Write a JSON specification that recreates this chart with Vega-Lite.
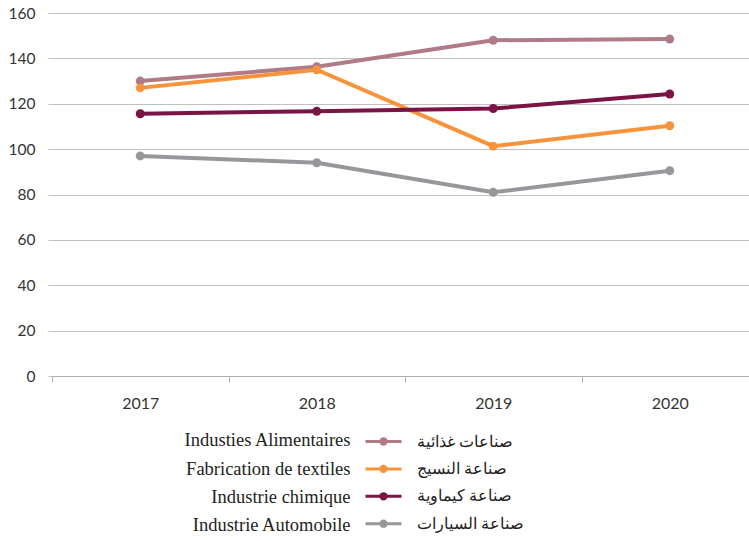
{
  "$schema": "https://vega.github.io/schema/vega-lite/v6.json",
  "autosize": {"type": "none"},
  "padding": {"left": 52, "top": 13, "right": 0, "bottom": 165},
  "width": 697,
  "height": 363,
  "background": "white",
  "config": {
    "view": {"stroke": null},
    "font": "Lato"
  },
  "data": {
    "values": [
      {"year": "2017", "fr": "Industies Alimentaires", "ar": "صناعات غذائية", "value": 130},
      {"year": "2018", "fr": "Industies Alimentaires", "ar": "صناعات غذائية", "value": 136.3},
      {"year": "2019", "fr": "Industies Alimentaires", "ar": "صناعات غذائية", "value": 148},
      {"year": "2020", "fr": "Industies Alimentaires", "ar": "صناعات غذائية", "value": 148.5},
      {"year": "2017", "fr": "Fabrication de textiles", "ar": "صناعة النسيج", "value": 127},
      {"year": "2018", "fr": "Fabrication de textiles", "ar": "صناعة النسيج", "value": 135},
      {"year": "2019", "fr": "Fabrication de textiles", "ar": "صناعة النسيج", "value": 101.3},
      {"year": "2020", "fr": "Fabrication de textiles", "ar": "صناعة النسيج", "value": 110.3},
      {"year": "2017", "fr": "Industrie chimique", "ar": "صناعة كيماوية", "value": 115.6},
      {"year": "2018", "fr": "Industrie chimique", "ar": "صناعة كيماوية", "value": 116.7},
      {"year": "2019", "fr": "Industrie chimique", "ar": "صناعة كيماوية", "value": 117.9},
      {"year": "2020", "fr": "Industrie chimique", "ar": "صناعة كيماوية", "value": 124.3},
      {"year": "2017", "fr": "Industrie Automobile", "ar": "صناعة السيارات", "value": 97},
      {"year": "2018", "fr": "Industrie Automobile", "ar": "صناعة السيارات", "value": 94},
      {"year": "2019", "fr": "Industrie Automobile", "ar": "صناعة السيارات", "value": 81},
      {"year": "2020", "fr": "Industrie Automobile", "ar": "صناعة السيارات", "value": 90.5}
    ]
  },
  "encoding": {
    "x": {
      "field": "year",
      "type": "ordinal",
      "scale": {"type": "band", "paddingInner": 0, "paddingOuter": 0, "range": [0, 706]},
      "axis": {
        "title": null,
        "labelAngle": 0,
        "labelFont": "Lato",
        "labelFontSize": 16,
        "labelColor": "#333333",
        "labelPadding": 13,
        "tickBand": "extent",
        "tickSize": 6,
        "tickColor": "#b0b0b0",
        "domainColor": "#b0b0b0",
        "grid": false
      }
    },
    "y": {
      "field": "value",
      "type": "quantitative",
      "scale": {"domain": [0, 160], "nice": false},
      "axis": {
        "title": null,
        "values": [0, 20, 40, 60, 80, 100, 120, 140, 160],
        "domain": false,
        "tickSize": 4,
        "tickColor": "#c0c0c0",
        "gridColor": "#c0c0c0",
        "gridWidth": 1,
        "labelFont": "Lato",
        "labelFontSize": 15.5,
        "labelColor": "#333333",
        "labelPadding": 13
      }
    }
  },
  "layer": [
    {
      "mark": {"type": "line", "strokeWidth": 4},
      "encoding": {
        "color": {
          "field": "ar",
          "type": "nominal",
          "scale": {
            "domain": ["صناعات غذائية", "صناعة النسيج", "صناعة كيماوية", "صناعة السيارات"],
            "range": ["#b07a87", "#f7943b", "#7a1444", "#97979b"]
          },
          "legend": {
            "title": null,
            "orient": "none",
            "legendX": 318,
            "legendY": 415,
            "padding": 0,
            "symbolType": "M-1.5,0H1.5M-0.22,0A0.22,0.22 0 1,1 0.22,0A0.22,0.22 0 1,1 -0.22,0",
            "symbolSize": 576,
            "symbolStrokeWidth": 3,
            "labelFont": "Liberation Serif",
            "labelFontSize": 16,
            "labelColor": "#222222",
            "labelOffset": 20,
            "labelLimit": 0,
            "rowPadding": 4.4
          }
        }
      }
    },
    {
      "mark": {"type": "point", "filled": true, "size": 80, "opacity": 1},
      "encoding": {
        "color": {"field": "ar", "type": "nominal"},
        "shape": {
          "field": "fr",
          "type": "nominal",
          "scale": {
            "domain": ["Industies Alimentaires", "Fabrication de textiles", "Industrie chimique", "Industrie Automobile"],
            "range": ["circle", "circle", "circle", "circle"]
          },
          "legend": {
            "title": null,
            "orient": "none",
            "legendX": 280,
            "legendY": 418,
            "padding": 0,
            "symbolSize": 16,
            "symbolOpacity": 0,
            "symbolStrokeWidth": 0,
            "labelFont": "Liberation Serif",
            "labelFontSize": 18.5,
            "labelColor": "#222222",
            "labelAlign": "right",
            "labelOffset": 0,
            "labelLimit": 0,
            "rowPadding": 9.3
          }
        }
      }
    }
  ]
}
